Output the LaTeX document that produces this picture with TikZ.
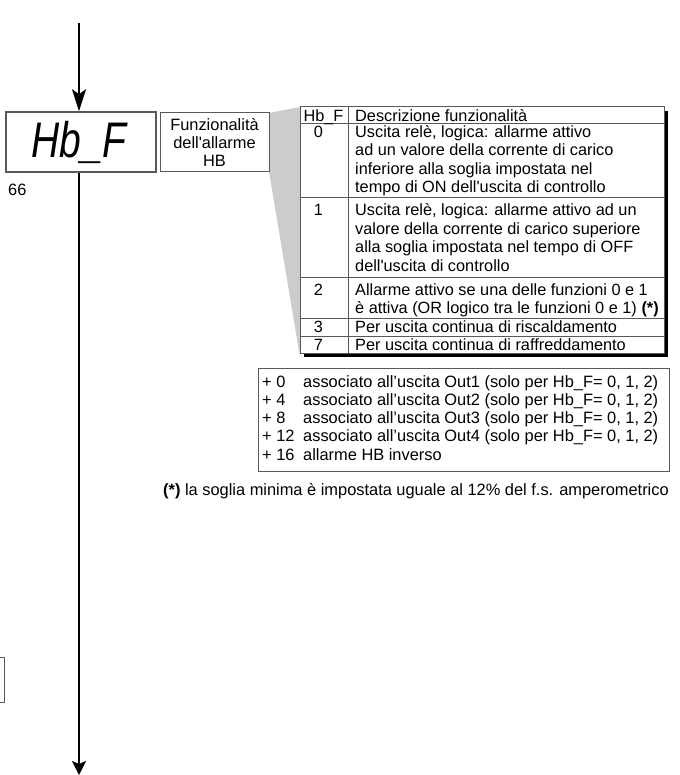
\documentclass[tikz,border=0pt]{standalone}
\usepackage{fontspec}
\setmainfont{Liberation Sans}
\usetikzlibrary{arrows.meta}
\begin{document}
\begin{tikzpicture}[x=1pt,y=-1pt,
  txt/.style={anchor=base west,inner sep=0pt,font=\fontsize{16.3}{18}\selectfont},
  num/.style={anchor=base,inner sep=0pt,font=\fontsize{16.3}{18}\selectfont},
  btxt/.style={anchor=base west,inner sep=0pt,font=\fontsize{16.4}{18}\selectfont},
  boxline/.style={draw=black!65,line width=1pt},
  flow/.style={line width=2pt,-{Stealth[length=22pt,width=14pt,inset=5pt]}},
  flowend/.style={line width=2pt,-{Stealth[length=14pt,width=14pt,inset=3pt]}},
]
\useasboundingbox (0,0) rectangle (679,775);

% gray wedge
\fill[black!20] (269,113) -- (300,107) -- (300,357) -- (269,172) -- cycle;

% Hb_F box
\node[draw=black!65,line width=1.5pt,minimum width=150pt,minimum height=60pt,inner sep=0pt] (hbf) at (81,142) {};
\node[anchor=base,inner sep=0pt] (hbtxt) at (79,158) {\scalebox{0.78}[1]{\fontsize{50}{50}\selectfont\itshape Hb\_F}};
\node[btxt] (n66) at (8,195.5) {66};

% function box
\node[boxline,minimum width=109pt,minimum height=59pt,inner sep=0pt,align=center,
      font=\fontsize{16.4}{18}\selectfont] (fbox) at (214.5,142.5)
      {Funzionalità\\dell\textquotesingle allarme\\HB};

% table
\fill[black] (304,111) rectangle (668,357);
\filldraw[fill=white,boxline] (300,107) rectangle (664,353);
\draw[boxline] (348,107) -- (348,353);
\foreach \yy in {124,198,277,318,336} \draw[boxline] (300,\yy) -- (664,\yy);

\node[num] (h1) at (323.5,121.5) {Hb\_F};
\node[txt] (h2) at (355,121.5) {Descrizione funzionalità};

\node[num] (r0) at (318.5,137.5) {0};
\node[txt] (r0a) at (355,137.5) {Uscita relè, logica: allarme attivo};
\node[txt] (r0b) at (355,156) {ad un valore della corrente di carico};
\node[txt] (r0c) at (355,174.5) {inferiore alla soglia impostata nel};
\node[txt] (r0d) at (355,193) {tempo di ON dell\textquotesingle uscita di controllo};

\node[num] (r1) at (318.5,216) {1};
\node[txt] (r1a) at (355,216) {Uscita relè, logica: allarme attivo ad un};
\node[txt] (r1b) at (355,234.5) {valore della corrente di carico superiore};
\node[txt] (r1c) at (355,253) {alla soglia impostata nel tempo di OFF};
\node[txt] (r1d) at (355,271.5) {dell\textquotesingle uscita di controllo};

\node[num] (r2) at (318.5,295) {2};
\node[txt] (r2a) at (355,295) {Allarme attivo se una delle funzioni 0 e 1};
\node[txt] (r2b) at (355,313.5) {è attiva (OR logico tra le funzioni 0 e 1) \textbf{(*)}};

\node[num] (r3) at (318.5,332.5) {3};
\node[txt] (r3a) at (355,332.5) {Per uscita continua di riscaldamento};

\node[num] (r7) at (318.5,350) {7};
\node[txt] (r7a) at (355,350) {Per uscita continua di raffreddamento};

% offsets box
\draw[boxline] (258,368) rectangle (669,471);
\node[btxt] (p0) at (262,387.5) {+ 0};
\node[btxt] (p0t) at (303,387.5) {associato all’uscita Out1 (solo per Hb\_F= 0, 1, 2)};
\node[btxt] (p4) at (262,405.5) {+ 4};
\node[btxt] (p4t) at (303,405.5) {associato all’uscita Out2 (solo per Hb\_F= 0, 1, 2)};
\node[btxt] (p8) at (262,423.5) {+ 8};
\node[btxt] (p8t) at (303,423.5) {associato all’uscita Out3 (solo per Hb\_F= 0, 1, 2)};
\node[btxt] (p12) at (262,441.5) {+ 12};
\node[btxt] (p12t) at (303,441.5) {associato all’uscita Out4 (solo per Hb\_F= 0, 1, 2)};
\node[btxt] (p16) at (262,460) {+ 16};
\node[btxt] (p16t) at (303,460) {allarme HB inverso};

% footnote
\node[btxt] (foot) at (163,495.5) {\textbf{(*)} la soglia minima è impostata uguale al 12\% del f.s. amperometrico};

% partial box at left edge
\draw[boxline] (0,657) -- (4,657) -- (4,702) -- (0,702);

% flow arrows
\coordinate (top) at (79,23);
\coordinate (bot) at (79,775);
\draw[flow] (top) -- (top |- hbf.north);
\draw[flowend] (bot |- hbf.south) -- (bot);
\end{tikzpicture}
\end{document}
